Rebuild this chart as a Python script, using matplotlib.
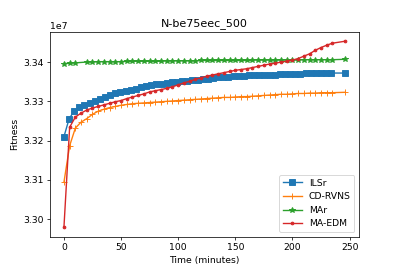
import numpy as np
import matplotlib
matplotlib.use('Agg')
import matplotlib.pyplot as plt

# time grid (minutes) for CD-RVNS and MA-EDM
TIME = [0, 5, 10, 15, 20, 25, 30, 35, 40, 45, 50, 55, 60, 65, 70, 75, 80, 85,
        90, 95, 100, 105, 110, 115, 120, 125, 130, 135, 140, 145, 150, 155,
        160, 165, 170, 175, 180, 185, 190, 195, 200, 205, 210, 215, 220, 225,
        230, 235, 246]
# MAr has no sample at 15
TIME_MAR = [0, 5, 10, 20, 25, 30, 35, 40, 45, 50, 55, 60, 65, 70, 75, 80, 85,
            90, 95, 100, 105, 110, 115, 120, 125, 130, 135, 140, 145, 150, 155,
            160, 165, 170, 175, 180, 185, 190, 195, 200, 205, 210, 215, 220,
            225, 230, 235, 246]
# ILSr is logged more often
TIME_ILS = [0, 4.5, 9, 13.5, 18, 22.5, 27, 31.5, 36, 40.5, 45, 49.5, 54, 58.5,
            63, 67.5, 72, 76.5, 81, 85.5, 90, 94.5, 99, 103.5, 108, 112.5, 117,
            121.5, 126, 130.5, 135, 139.5, 144, 148.5, 153, 157.5, 162, 166.5,
            171, 175.5, 180, 184.5, 189, 193.5, 198, 202.5, 207, 211.5, 216,
            220.5, 225, 229.5, 234, 246]

# fitness, in units of 1e7
ILSR = [3.3210, 3.3255, 3.3276, 3.3285, 3.3290, 3.3295, 3.3300, 3.3306,
        3.3311, 3.3316, 3.3320, 3.3324, 3.3327, 3.3329, 3.3332, 3.3336,
        3.3339, 3.3341, 3.3343, 3.3345, 3.3347, 3.3349, 3.3350, 3.3351,
        3.3353, 3.3354, 3.3355, 3.3357, 3.3358, 3.3359, 3.3361, 3.3362,
        3.3363, 3.3364, 3.3365, 3.3365, 3.3366, 3.3366, 3.3367, 3.3367,
        3.3368, 3.3368, 3.3369, 3.3369, 3.3370, 3.3370, 3.3370, 3.3371,
        3.3371, 3.3371, 3.3372, 3.3372, 3.3372, 3.3372]
CDRVNS = [3.3094, 3.3187, 3.3232, 3.3247, 3.3256, 3.3267, 3.3275, 3.3280,
          3.3284, 3.3287, 3.3290, 3.3292, 3.3294, 3.3295, 3.3296, 3.3297,
          3.3298, 3.3299, 3.3300, 3.3301, 3.3302, 3.3303, 3.3304, 3.3305,
          3.3306, 3.3307, 3.3308, 3.3309, 3.3310, 3.3310, 3.3311, 3.3312,
          3.3312, 3.3313, 3.3314, 3.3315, 3.3316, 3.3317, 3.3318, 3.3318,
          3.3319, 3.3320, 3.3320, 3.3321, 3.3321, 3.3322, 3.3322, 3.3322,
          3.3323]
MAR = [3.3396, 3.3397, 3.3398, 3.3400, 3.3400, 3.3401, 3.3401, 3.3401,
       3.3401, 3.3401, 3.3402, 3.3402, 3.3402, 3.3402, 3.3402, 3.3402,
       3.3402, 3.3403, 3.3403, 3.3403, 3.3403, 3.3403, 3.3403, 3.3404,
       3.3404, 3.3404, 3.3404, 3.3404, 3.3404, 3.3404, 3.3404, 3.3404,
       3.3405, 3.3405, 3.3405, 3.3405, 3.3405, 3.3405, 3.3405, 3.3405,
       3.3405, 3.3406, 3.3406, 3.3406, 3.3406, 3.3406, 3.3406, 3.3407]
MAEDM = [3.2979, 3.3234, 3.3260, 3.3270, 3.3278, 3.3283, 3.3287, 3.3291,
         3.3295, 3.3299, 3.3302, 3.3307, 3.3311, 3.3315, 3.3319, 3.3324,
         3.3327, 3.3330, 3.3333, 3.3337, 3.3342, 3.3347, 3.3351, 3.3356,
         3.3360, 3.3364, 3.3367, 3.3370, 3.3373, 3.3376, 3.3379, 3.3381,
         3.3383, 3.3386, 3.3389, 3.3392, 3.3395, 3.3397, 3.3400, 3.3402,
         3.3405, 3.3409, 3.3415, 3.3421, 3.3430, 3.3437, 3.3443, 3.3448,
         3.3453]

fig, ax = plt.subplots(figsize=(6, 4), dpi=66.5)

ax.plot(TIME_ILS, np.array(ILSR) * 1e7, marker='s', label='ILSr')
ax.plot(TIME, np.array(CDRVNS) * 1e7, marker='+', label='CD-RVNS')
ax.plot(TIME_MAR, np.array(MAR) * 1e7, marker='*', label='MAr')
ax.plot(TIME, np.array(MAEDM) * 1e7, marker='.', label='MA-EDM')

ax.set_title('N-be75eec_500')
ax.set_xlabel('Time (minutes)')
ax.set_ylabel('Fitness')
ax.legend(loc='lower right')

fig.savefig('out.png', dpi=66.5)
